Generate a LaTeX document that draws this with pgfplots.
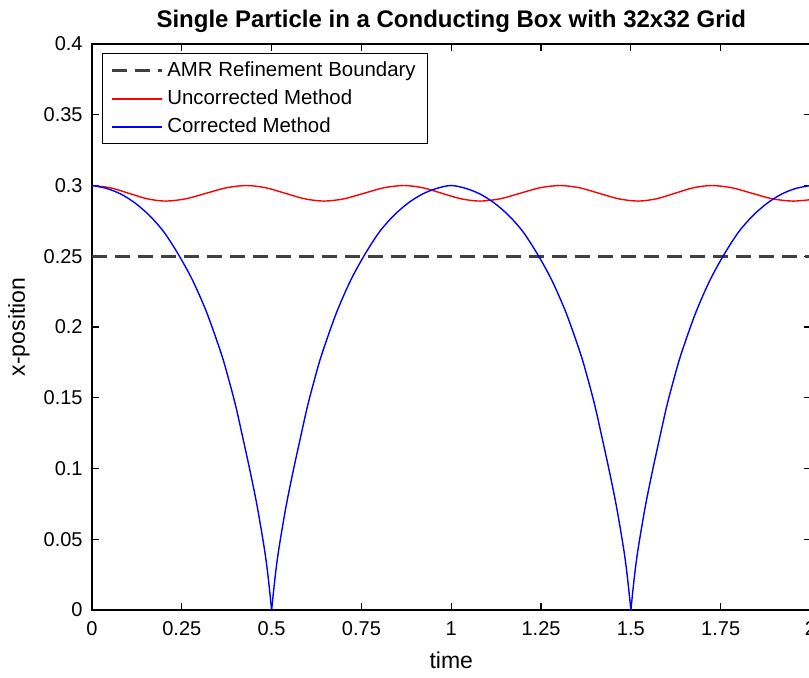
\documentclass[border=0pt]{standalone}
\usepackage{fontspec}
\setmainfont{Liberation Sans}
\usepackage{pgfplots}
\pgfplotsset{compat=1.18}
\definecolor{dashgray}{RGB}{64,64,64}
\definecolor{myred}{RGB}{255,0,0}
\definecolor{myblue}{RGB}{0,0,255}
\begin{document}
\begin{tikzpicture}
\begin{axis}[
  scale only axis, width=359.25pt, height=283pt,
  at={(0pt,0pt)}, anchor=south west,
  xmin=0, xmax=2, ymin=0, ymax=0.4,
  xtick={0,0.25,0.5,0.75,1,1.25,1.5,1.75,2},
  xticklabels={0,0.25,0.5,0.75,1,1.25,1.5,1.75,2},
  ytick={0,0.05,0.1,0.15,0.2,0.25,0.3,0.35,0.4},
  yticklabels={0,0.05,0.1,0.15,0.2,0.25,0.3,0.35,0.4},
  tick align=inside, major tick length=3.5pt,
  tick style={line width=0.6pt, color=black},
  axis line style={line width=0.7pt, color=black},
  ticklabel style={font=\fontsize{10}{12}\selectfont},
  xticklabel style={anchor=north, inner sep=0pt, yshift=-5.5pt},
  yticklabel style={anchor=east, inner sep=0pt, xshift=-4.5pt},
  title={Single Particle in a Conducting Box with 32x32 Grid},
  title style={font=\bfseries\fontsize{12}{14}\selectfont, at={(axis description cs:0.5,1)}, anchor=base, yshift=2.5pt},
  xlabel={time},
  xlabel style={font=\fontsize{11.5}{13}\selectfont, at={(axis description cs:0.5,0)}, anchor=center, yshift=-25pt},
  ylabel={x-position},
  ylabel style={font=\fontsize{11.5}{13}\selectfont, at={(axis description cs:0,0.5)}, anchor=center, yshift=36.5pt},
  legend style={at={(axis description cs:0.0139,0.984)}, anchor=north west, draw=black, line width=0.6pt,
    font=\fontsize{10.2}{12}\selectfont, cells={anchor=west}, inner xsep=4pt, inner ysep=2pt, row sep=1.2pt},
  legend image code/.code={\draw[#1] (2pt,0pt) -- (27pt,0pt);},
]
\addplot[dashgray, line width=1.4pt, dash pattern=on 7.5pt off 4pt] coordinates {(0,0.25) (2,0.25)};
\addlegendentry{AMR Refinement Boundary}
\addplot[myred, line width=0.7pt, smooth, legend image post style={line width=0.9pt}] coordinates {
(0,0.300) (0.051,0.2984) (0.1025,0.2945) (0.154,0.2906) (0.205,0.289)
(0.261,0.2906) (0.3175,0.2945) (0.374,0.2984) (0.43,0.300)
(0.484,0.2984) (0.538,0.2945) (0.592,0.2906) (0.646,0.289)
(0.7015,0.2906) (0.757,0.2945) (0.8125,0.2984) (0.868,0.300)
(0.921,0.2984) (0.974,0.2945) (1.027,0.2906) (1.08,0.289)
(1.136,0.2906) (1.1915,0.2945) (1.247,0.2984) (1.303,0.300)
(1.357,0.2984) (1.4115,0.2945) (1.466,0.2906) (1.52,0.289)
(1.571,0.2906) (1.6225,0.2945) (1.674,0.2984) (1.725,0.300)
(1.781,0.2984) (1.8375,0.2945) (1.894,0.2906) (1.95,0.289)
(2.0,0.2900)};
\addlegendentry{Uncorrected Method}
\addplot[myblue, line width=0.7pt, smooth, legend image post style={line width=0.9pt}] coordinates {
(0.00,0.3000) (0.04,0.2980) (0.08,0.2940) (0.12,0.2876) (0.16,0.2788) (0.20,0.2672)
(0.24,0.2515) (0.28,0.2330) (0.32,0.2098) (0.36,0.1810) (0.38,0.1635) (0.40,0.1442)
(0.42,0.1215) (0.44,0.0982) (0.46,0.0730) (0.48,0.0430) (0.49,0.0240) (0.50,0.0000)};
\addlegendentry{Corrected Method}
\addplot[myblue, line width=0.7pt, smooth, forget plot] coordinates {
(0.50,0.0000) (0.51,0.0240) (0.52,0.0430) (0.54,0.0730) (0.56,0.0982) (0.58,0.1215)
(0.60,0.1442) (0.62,0.1635) (0.64,0.1810) (0.68,0.2098) (0.72,0.2330) (0.76,0.2515)
(0.80,0.2672) (0.84,0.2788) (0.88,0.2876) (0.92,0.2940) (0.96,0.2980) (1.00,0.3000)
(1.04,0.2980) (1.08,0.2940) (1.12,0.2876) (1.16,0.2788) (1.20,0.2672)
(1.24,0.2515) (1.28,0.2330) (1.32,0.2098) (1.36,0.1810) (1.38,0.1635) (1.40,0.1442)
(1.42,0.1215) (1.44,0.0982) (1.46,0.0730) (1.48,0.0430) (1.49,0.0240) (1.50,0.0000)};
\addplot[myblue, line width=0.7pt, smooth, forget plot] coordinates {
(1.50,0.0000) (1.51,0.0240) (1.52,0.0430) (1.54,0.0730) (1.56,0.0982) (1.58,0.1215)
(1.60,0.1442) (1.62,0.1635) (1.64,0.1810) (1.68,0.2098) (1.72,0.2330) (1.76,0.2515)
(1.80,0.2672) (1.84,0.2788) (1.88,0.2876) (1.92,0.2940) (1.96,0.2980) (2.00,0.3000)};
\end{axis}
\pgfresetboundingbox
\path[use as bounding box] (-46pt,-33.5pt) rectangle (358.5pt,305pt);
\end{tikzpicture}
\end{document}
